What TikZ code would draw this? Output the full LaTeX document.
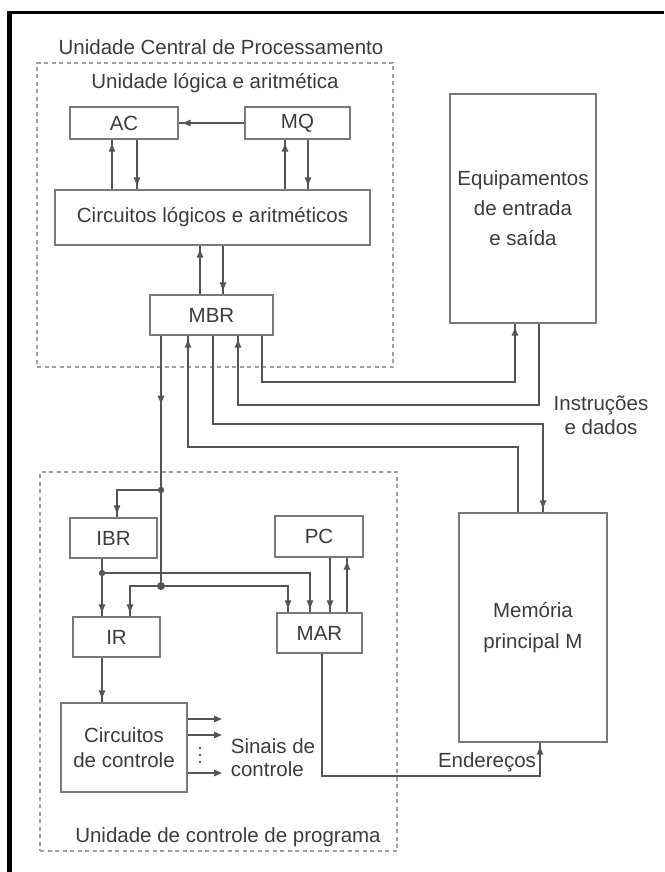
\documentclass[tikz,border=0pt]{standalone}
\usepackage{fontspec}
\setmainfont{Liberation Sans}
\usetikzlibrary{arrows.meta,decorations.markings}
\definecolor{boxc}{HTML}{7A7A7A}
\definecolor{linec}{HTML}{555555}
\definecolor{txtc}{HTML}{3C3C3C}
\definecolor{dashc}{HTML}{A0A0A0}
\begin{document}
\begin{tikzpicture}[x=1pt,y=-1pt,
  font=\fontsize{20.5}{24}\selectfont, text=txtc,
  reg/.style={draw=boxc, line width=1.4pt, fill=white, inner sep=0pt},
  dashbox/.style={draw=dashc, line width=1.2pt, dash pattern=on 4pt off 3.5pt, inner sep=0pt},
  wire/.style={draw=linec, line width=1.3pt},
  arr/.style={wire, postaction={decorate},
    decoration={markings, mark=at position -4pt with {\arrow[color=linec]{Triangle[length=8pt,width=6.5pt]}}}},
  midarr/.style={wire, postaction={decorate},
    decoration={markings, mark=at position 68pt with {\arrow[color=linec]{Triangle[length=8pt,width=6.5pt]}}}},
  endarr/.style={wire, -{Triangle[length=8pt,width=6.5pt]}},
  lbl/.style={inner sep=0pt}
]
\useasboundingbox (0,0) rectangle (664,872);
% frame
\draw[line width=3pt, black] (664,12.5) -- (9.5,12.5);
\draw[line width=4.5pt, black] (9.5,11) -- (9.5,872);

% dashed units
\node[dashbox, minimum width=356pt, minimum height=304pt] (CPU) at (215,215) {};
\node[dashbox, minimum width=357pt, minimum height=379pt] (UCP) at (218.5,661.5) {};

% labels
\node[lbl] (tCPU) at (221,47) {Unidade Central de Processamento};
\node[lbl] (tALU) at (215,83) {Unidade lógica e aritmética};
\node[lbl, align=center, font=\fontsize{20.5}{24}\selectfont] (tID) at (601,415) {Instruções\\e dados};
\node[lbl] (tEnd) at (487,762) {Endereços};
\node[lbl, align=left, font=\fontsize{20.5}{23}\selectfont] (tSin) at (273,758) {Sinais de\\controle};
\node[lbl] (tUCP) at (228,837) {Unidade de controle de programa};

% registers and blocks
\node[reg, minimum width=108pt, minimum height=32pt] (AC) at (124,123) {AC};
\node[reg, minimum width=105pt, minimum height=32pt] (MQ) at (297.5,123) {MQ};
\node[reg, minimum width=315pt, minimum height=55pt] (ALU) at (212.5,217.5) {Circuitos lógicos e aritméticos};
\node[reg, minimum width=123pt, minimum height=40pt] (MBR) at (211.5,315) {MBR};
\node[reg, minimum width=146pt, minimum height=229pt, align=center, font=\fontsize{20.5}{30}\selectfont] (Equip) at (523,208.5) {Equipamentos\\de entrada\\e saída};
\node[reg, minimum width=148pt, minimum height=229pt, align=center, font=\fontsize{20.5}{31}\selectfont] (Mem) at (533,627.5) {Memória\\principal M};
\node[reg, minimum width=87pt, minimum height=40pt] (IBR) at (113.5,538) {IBR};
\node[reg, minimum width=87pt, minimum height=40pt] (IR) at (116.5,637) {IR};
\node[reg, minimum width=88pt, minimum height=41pt] (PC) at (319,536.5) {PC};
\node[reg, minimum width=85pt, minimum height=40pt] (MAR) at (319.5,633) {MAR};
\node[reg, minimum width=126pt, minimum height=89pt, align=center, font=\fontsize{20.5}{25}\selectfont] (CC) at (124,747.5) {Circuitos\\de controle};

% ALU connections
\draw[arr] (MQ.west) -- (AC.east);
\draw[arr] (ALU.north -| 112,0) -- (AC.south -| 112,0);
\draw[arr] (AC.south -| 137,0) -- (ALU.north -| 137,0);
\draw[arr] (ALU.north -| 285,0) -- (MQ.south -| 285,0);
\draw[arr] (MQ.south -| 308,0) -- (ALU.north -| 308,0);
\draw[arr] (MBR.north -| 200,0) -- (ALU.south -| 200,0);
\draw[arr] (ALU.south -| 223,0) -- (MBR.north -| 223,0);

% MBR to I/O and memory
\draw[arr] (MBR.south -| 262,0) -- (262,382) -- (515,382) -- (Equip.south -| 515,0);
\draw[arr] (Equip.south -| 539,0) -- (539,405) -- (238,405) -- (MBR.south -| 238,0);
\draw[arr] (MBR.south -| 213,0) -- (213,424) -- (543,424) -- (Mem.north -| 543,0);
\draw[arr] (Mem.north -| 518,0) -- (518,447) -- (188,447) -- (MBR.south -| 188,0);

% MBR to IBR, IR, MAR
\coordinate (j1) at (161,490);
\coordinate (j2) at (161,586);
\coordinate (j3) at (102,573);
\draw[midarr] (MBR.south -| 161,0) -- (j2);
\draw[arr] (j1) -- (117,490) -- (IBR.north -| 117,0);
\draw[arr] (j2) -- (130,586) -- (IR.north -| 130,0);
\draw[arr] (j2) -- (288,586) -- (MAR.north -| 288,0);
\draw[arr] (IBR.south -| 102,0) -- (IR.north -| 102,0);
\draw[arr] (j3) -- (310,573) -- (MAR.north -| 310,0);
\fill[linec] (j1) circle (3.2pt);
\fill[linec] (j2) circle (4pt);
\fill[linec] (j3) circle (3.2pt);

% PC <-> MAR
\draw[arr] (PC.south -| 330,0) -- (MAR.north -| 330,0);
\draw[arr] (MAR.north -| 347,0) -- (PC.south -| 347,0);

% IR -> control circuits
\draw[arr] (IR.south -| 102,0) -- (CC.north -| 102,0);

% control signals
\coordinate (s1) at (222,719);
\coordinate (s2) at (222,735);
\coordinate (s3) at (222,773);
\draw[endarr] (CC.east |- s1) -- (s1);
\draw[endarr] (CC.east |- s2) -- (s2);
\draw[endarr] (CC.east |- s3) -- (s3);
\fill[linec] (200,748) circle (1.3pt) (200,755) circle (1.3pt) (200,762) circle (1.3pt);

% MAR -> memory
\draw[arr] (MAR.south -| 322,0) -- (322,776) -- (540,776) -- (Mem.south -| 540,0);
\end{tikzpicture}
\end{document}
